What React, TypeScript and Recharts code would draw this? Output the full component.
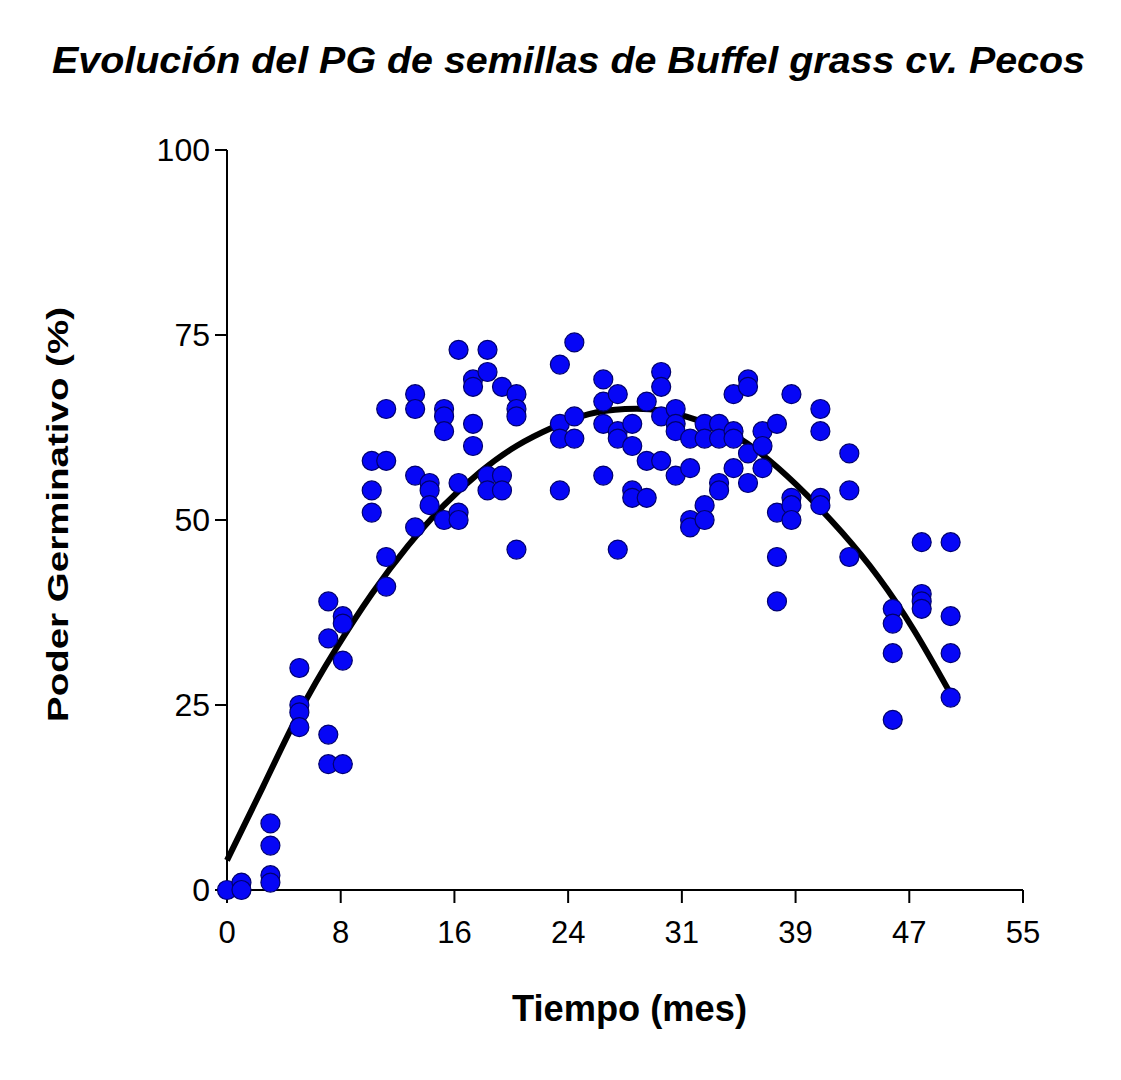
import { ComposedChart, Scatter, Line, XAxis, YAxis } from "recharts";

// months where seeds were tested, and the PG readings at each
const months = [
  0, 1, 3, 5, 7, 8, 10, 11, 13, 14, 15, 16, 17, 18, 19, 20, 23, 24, 26, 27,
  28, 29, 30, 31, 32, 33, 34, 35, 36, 37, 38, 39, 41, 43, 46, 48, 50,
];
const pgByMonth = [
  [0],
  [1, 0],
  [9, 6, 2, 1],
  [30, 25, 24, 22],
  [39, 34, 21, 17],
  [37, 36, 31, 17],
  [58, 54, 51],
  [65, 58, 45, 41],
  [67, 65, 56, 49],
  [55, 54, 52],
  [65, 64, 62, 50],
  [73, 55, 51, 50],
  [69, 68, 63, 60],
  [73, 70, 56, 54],
  [68, 56, 54],
  [67, 65, 64, 46],
  [71, 63, 61, 54],
  [74, 64, 61],
  [69, 66, 63, 56],
  [67, 62, 61, 46],
  [63, 60, 54, 53],
  [66, 58, 53],
  [70, 68, 64, 58],
  [65, 63, 62, 56],
  [61, 57, 50, 49],
  [63, 61, 52, 50],
  [63, 61, 55, 54],
  [67, 62, 61, 57],
  [69, 68, 59, 55],
  [62, 60, 57],
  [63, 51, 45, 39],
  [67, 53, 52, 50],
  [65, 62, 53, 52],
  [59, 54, 45],
  [38, 36, 32, 23],
  [47, 40, 39, 38],
  [47, 37, 32, 26],
];

// fitted curve
const fitMonths = [
  0, 2.5, 5, 7.5, 10, 12.5, 15, 17.5, 20, 22.5, 25, 27.5, 30, 32.5, 35, 37.5,
  40, 42.5, 45, 47.5, 50,
];
const fitPG = [
  4, 14, 24, 32.5, 40, 46.5, 52, 56.5, 60, 62.5, 64.3, 65, 64.8, 63.5, 61.5,
  58, 53.5, 48.3, 42.3, 35, 26.5,
];

const xTicks = [0, 7.857, 15.714, 23.571, 31.429, 39.286, 47.143, 55];
const xTickLabels = ["0", "8", "16", "24", "31", "39", "47", "55"];
const yTicks = [0, 25, 50, 75, 100];

const points = months.flatMap((m, i) =>
  pgByMonth[i].map((v) => ({ x: m, y: v }))
);
const curve = fitMonths.map((m, i) => ({ x: m, y: fitPG[i] }));

const font = "'Liberation Sans', Arial, Helvetica, sans-serif";

function BlueDot(props: any) {
  const { cx, cy } = props;
  if (cx == null || cy == null) return null;
  return (
    <circle
      cx={cx}
      cy={cy}
      r={9.5}
      fill="#0606f6"
      stroke="#00006e"
      strokeWidth={1.2}
    />
  );
}

export default function App() {
  return (
    <div
      style={{
        position: "absolute",
        left: 0,
        top: 0,
        width: 1121,
        height: 1080,
        background: "#fff",
      }}
    >
      <ComposedChart
        width={1121}
        height={1080}
        margin={{ top: 150, right: 98, left: 0, bottom: 0 }}
      >
        <XAxis
          type="number"
          dataKey="x"
          domain={[0, 55]}
          ticks={xTicks}
          interval={0}
          tickFormatter={(v: number, i: number) => xTickLabels[i] ?? String(v)}
          height={190}
          stroke="#000"
          strokeWidth={2}
          tickSize={13}
          tickMargin={18}
          tick={{ fill: "#000", fontSize: 31, fontFamily: font }}
        />
        <YAxis
          type="number"
          dataKey="y"
          domain={[0, 100]}
          ticks={yTicks}
          interval={0}
          width={227}
          stroke="#000"
          strokeWidth={2}
          tickSize={12}
          tickMargin={5}
          tick={{ fill: "#000", fontSize: 32, fontFamily: font }}
        />
        <Scatter data={points} shape={BlueDot} isAnimationActive={false} />
        <Line
          data={curve}
          dataKey="y"
          type="natural"
          stroke="#000"
          strokeWidth={6}
          dot={false}
          activeDot={false}
          isAnimationActive={false}
        />
      </ComposedChart>

      {/* title and axis titles */}
      <svg
        width={1121}
        height={1080}
        style={{ position: "absolute", left: 0, top: 0, pointerEvents: "none" }}
      >
        <text
          x={52}
          y={73}
          fontFamily={font}
          fontSize={36}
          fontWeight="bold"
          fontStyle="italic"
          textLength={1033}
          lengthAdjust="spacingAndGlyphs"
          fill="#000"
        >
          Evolución del PG de semillas de Buffel grass cv. Pecos
        </text>
        <text
          x={512}
          y={1021}
          fontFamily={font}
          fontSize={36}
          fontWeight="bold"
          textLength={235}
          lengthAdjust="spacingAndGlyphs"
          fill="#000"
        >
          Tiempo (mes)
        </text>
        <text
          transform="translate(68, 722) rotate(-90)"
          x={0}
          y={0}
          fontFamily={font}
          fontSize={30}
          fontWeight="bold"
          textLength={415}
          lengthAdjust="spacingAndGlyphs"
          fill="#000"
        >
          Poder Germinativo (%)
        </text>
      </svg>
    </div>
  );
}
